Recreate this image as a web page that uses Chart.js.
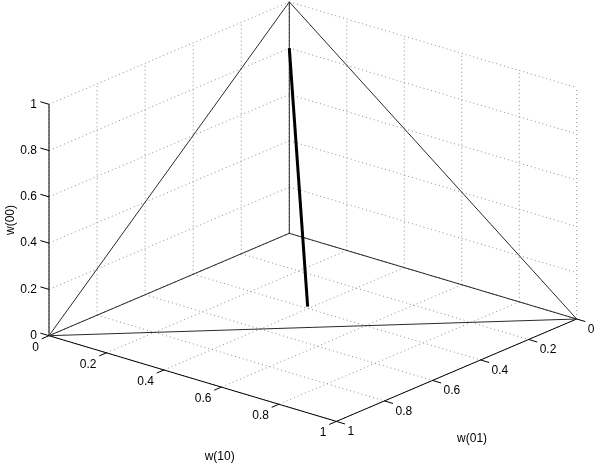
<!DOCTYPE html>
<html>
<head>
<meta charset="utf-8">
<script src="https://cdn.jsdelivr.net/npm/chart.js@4"></script>
<style>
    body { margin: 0; background: #fff; }
    canvas { display: block; }
</style>
</head>
<body>
<canvas id="chart" width="599" height="467"></canvas>
<script>
/* =========================
   Data
========================= */
const tickValues = [0, 0.2, 0.4, 0.6, 0.8, 1];
const tickLabels = ["0", "0.2", "0.4", "0.6", "0.8", "1"];
const axisTitles = ["w(10)", "w(01)", "w(00)"];

// simplex triangle, closed loop
const simplexW10 = [1, 0, 0, 1];
const simplexW01 = [0, 1, 0, 0];
const simplexW00 = [0, 0, 1, 0];

// edges from the origin to each vertex
const spokeW10 = [1, 0, 0];
const spokeW01 = [0, 1, 0];
const spokeW00 = [0, 0, 1];

// trajectory
const pathW10 = [0, 0.39];
const pathW01 = [0, 0.39];
const pathW00 = [0.80, 0];

/* =========================
   3D view (fixed camera)
========================= */
const view = { ox: 289.3, oy: 233.3, ax: 287.4, ay: 85.7, bx: -240.3, by: 102.4, cz: 231.4 };

function project(w10, w01, w00) {
    return {
        x: view.ox + view.ax * w10 + view.bx * w01,
        y: view.oy + view.ay * w10 + view.by * w01 - view.cz * w00
    };
}

function lineSet(points, style) {
    return Object.assign({
        type: "scatter",
        data: points.map(p => project(p[0], p[1], p[2])),
        showLine: true,
        pointRadius: 0,
        borderColor: "#000",
        borderWidth: 1,
        clip: false
    }, style);
}

const gridStyle = { borderColor: "#8c8c8c", borderWidth: 1, borderDash: [1, 3], order: 4 };
const axisStyle = { borderColor: "#000", borderWidth: 1, order: 3 };
const edgeStyle = { borderColor: "#2a2a2a", borderWidth: 1, order: 2 };

const datasets = [];

tickValues.forEach(t => {
    // floor
    datasets.push(lineSet([[t, 0, 0], [t, 1, 0]], gridStyle));
    datasets.push(lineSet([[0, t, 0], [1, t, 0]], gridStyle));
    // back wall w01 = 0
    datasets.push(lineSet([[t, 0, 0], [t, 0, 1]], gridStyle));
    datasets.push(lineSet([[0, 0, t], [1, 0, t]], gridStyle));
    // side wall w10 = 0
    datasets.push(lineSet([[0, t, 0], [0, t, 1]], gridStyle));
    datasets.push(lineSet([[0, 0, t], [0, 1, t]], gridStyle));

    // ticks
    datasets.push(lineSet([[0, 1, t], [-0.03, 1, t]], axisStyle));
    datasets.push(lineSet([[t, 1, 0], [t, 1.03, 0]], axisStyle));
    datasets.push(lineSet([[1, t, 0], [1.03, t, 0]], axisStyle));
});

// axis lines
datasets.push(lineSet([[0, 1, 0], [0, 1, 1]], axisStyle));
datasets.push(lineSet([[0, 1, 0], [1, 1, 0]], axisStyle));
datasets.push(lineSet([[1, 0, 0], [1, 1, 0]], axisStyle));

// simplex + spokes
datasets.push(lineSet(simplexW10.map((v, i) => [v, simplexW01[i], simplexW00[i]]), edgeStyle));
spokeW10.forEach((v, i) => {
    datasets.push(lineSet([[0, 0, 0], [v, spokeW01[i], spokeW00[i]]], edgeStyle));
});

// trajectory
datasets.push(lineSet(pathW10.map((v, i) => [v, pathW01[i], pathW00[i]]), {
    borderColor: "#000", borderWidth: 3, order: 1
}));

/* =========================
   Tick labels & titles
========================= */
const labelPlugin = {
    id: "labels3d",
    afterDraw(chart) {
        const ctx = chart.ctx;
        const sx = chart.scales.x;
        const sy = chart.scales.y;
        const px = (p) => ({ x: sx.getPixelForValue(p.x), y: sy.getPixelForValue(p.y) });

        ctx.save();
        ctx.fillStyle = "#000";
        ctx.font = "12px 'Liberation Sans', Arial, sans-serif";
        ctx.textBaseline = "middle";

        tickValues.forEach((t, i) => {
            let p = px(project(0, 1, t));
            ctx.textAlign = "right";
            ctx.fillText(tickLabels[i], p.x - 12, p.y);

            p = px(project(t, 1, 0));
            ctx.textAlign = "right";
            ctx.fillText(tickLabels[i], p.x - 10, p.y + 11.5);

            p = px(project(1, t, 0));
            ctx.textAlign = "left";
            ctx.fillText(tickLabels[i], p.x + 11, p.y + 10.5);
        });

        ctx.textAlign = "center";
        let p = px(project(0.5, 1, 0));
        ctx.fillText(axisTitles[0], p.x + 27, p.y + 78.5);
        p = px(project(1, 0.5, 0));
        ctx.fillText(axisTitles[1], p.x + 15.5, p.y + 68);

        p = px(project(0, 1, 0.5));
        ctx.translate(p.x - 38, p.y);
        ctx.rotate(-Math.PI / 2);
        ctx.fillText(axisTitles[2], 0, 0);
        ctx.restore();
    }
};

new Chart(document.getElementById("chart"), {
    type: "scatter",
    data: { datasets: datasets },
    options: {
        responsive: false,
        animation: false,
        layout: { padding: 0 },
        plugins: { legend: { display: false }, tooltip: { enabled: false } },
        scales: {
            x: { type: "linear", display: false, min: 0, max: 599 },
            y: { type: "linear", display: false, min: 0, max: 467, reverse: true }
        }
    },
    plugins: [labelPlugin]
});
</script>
</body>
</html>
